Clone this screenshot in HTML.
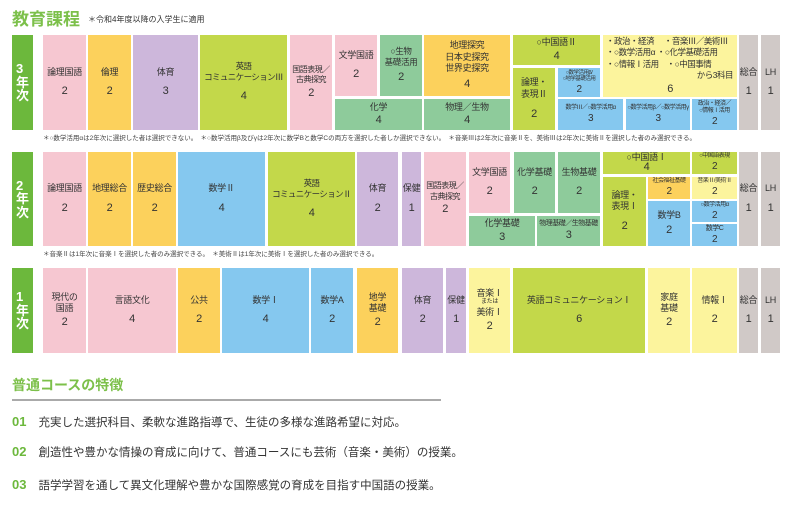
<!DOCTYPE html>
<html><head><meta charset="utf-8"><style>
body{margin:0;width:800px;height:512px;background:#fff;position:relative;overflow:hidden;font-family:"Liberation Sans","Noto Sans CJK JP",sans-serif;color:#333}
.c{position:absolute;display:flex;flex-direction:column;align-items:center;justify-content:center;text-align:center;font-size:9px;line-height:1.3;white-space:nowrap;letter-spacing:-0.3px;overflow:hidden}
.c b{font-weight:normal;font-size:11px;margin-top:6px}
.s{font-size:6px;line-height:1.15;letter-spacing:-0.5px}
.s b{font-size:10px;margin-top:1px}
.n{font-size:8.5px}
.pk{background:#f6c7d1}.or{background:#fcd15c}.pu{background:#cdb7db}.li{background:#c3d84a}.gr{background:#8ecb9b}.bl{background:#85c8ef}.ye{background:#fcf49d}.gy{background:#d0c9c7}
.yr{position:absolute;left:12px;width:21px;background:#6cb83c;color:#fff;font-weight:bold;font-size:13px;line-height:1.05;display:flex;flex-direction:column;align-items:center;justify-content:center}
.fn{position:absolute;font-size:6.5px;color:#444;white-space:nowrap}
.it{position:absolute;left:12px;font-size:11.5px;white-space:nowrap}
.it span{color:#6cb83c;font-weight:bold;font-size:13px;margin-right:12px}
</style></head><body>
<div style="position:absolute;left:12px;top:5px;font-size:17px;font-weight:bold;color:#7cc04a">教育課程</div>
<div style="position:absolute;left:88px;top:14px;font-size:8px">＊令和4年度以降の入学生に適用</div>

<!-- 3年 -->
<div class="yr" style="top:35px;height:95px">3<br>年<br>次</div>
<div class="c pk" style="left:43px;top:35px;width:43px;height:95px">論理国語<b>2</b></div>
<div class="c or" style="left:88px;top:35px;width:43px;height:95px">倫理<b>2</b></div>
<div class="c pu" style="left:133px;top:35px;width:65px;height:95px">体育<b>3</b></div>
<div class="c li" style="left:200px;top:35px;width:87px;height:95px;font-size:8.5px;letter-spacing:-0.6px">英語<br>コミュニケーションⅢ<b>4</b></div>
<div class="c pk" style="left:290px;top:35px;width:42px;height:95px;font-size:8px;letter-spacing:-0.5px">国語表現／<br>古典探究<b style="margin-top:0">2</b></div>
<div class="c pk" style="left:335px;top:35px;width:42px;height:61px">文学国語<b>2</b></div>
<div class="c gr" style="left:380px;top:35px;width:42px;height:61px;font-size:8.5px">○生物<br>基礎活用<b style="margin-top:2px">2</b></div>
<div class="c gr" style="left:335px;top:99px;width:87px;height:31px">化学<b style="margin-top:0">4</b></div>
<div class="c or" style="left:424px;top:35px;width:86px;height:61px">地理探究<br>日本史探究<br>世界史探究<b style="margin-top:2px">4</b></div>
<div class="c gr" style="left:424px;top:99px;width:86px;height:31px">物理／生物<b style="margin-top:0">4</b></div>
<div class="c li" style="left:513px;top:35px;width:87px;height:30px">○中国語Ⅱ<b style="margin-top:0">4</b></div>
<div class="c li" style="left:513px;top:68px;width:42px;height:62px">論理・<br>表現Ⅱ<b>2</b></div>
<div class="c bl s" style="left:558px;top:68px;width:42px;height:29px;font-size:5.5px">○数学活用β/<br>○地学基礎活用<b>2</b></div>
<div class="c bl s" style="left:558px;top:99px;width:65px;height:31px">数学Ⅲ／○数学活用α<b>3</b></div>
<div class="c bl s" style="left:626px;top:99px;width:64px;height:31px">○数学活用β／○数学活用γ<b>3</b></div>
<div class="c bl s" style="left:692px;top:99px;width:45px;height:31px">政治・経済／<br>○情報Ⅰ活用<b>2</b></div>
<div class="c ye" style="left:603px;top:35px;width:134px;height:62px;align-items:stretch;font-size:8.5px;line-height:1.35;letter-spacing:-0.5px">
<div style="text-align:left;padding-left:3px">・政治・経済　 ・音楽Ⅲ／美術Ⅲ<br>・○数学活用α ・○化学基礎活用<br>・○情報Ⅰ活用　・○中国事情</div>
<div style="text-align:right;padding-right:4px">から3科目</div><div style="font-size:11px">6</div></div>
<div class="c gy" style="left:739px;top:35px;width:19px;height:95px;font-size:9px">総合<b>1</b></div>
<div class="c gy" style="left:761px;top:35px;width:19px;height:95px">LH<b>1</b></div>
<div class="fn" style="left:43px;top:132px">＊○数学活用αは2年次に選択した者は選択できない。　＊○数学活用β及びγは2年次に数学Bと数学Cの両方を選択した者しか選択できない。　＊音楽Ⅲは2年次に音楽Ⅱを、美術Ⅲは2年次に美術Ⅱを選択した者のみ選択できる。</div>

<!-- 2年 -->
<div class="yr" style="top:152px;height:94px">2<br>年<br>次</div>
<div class="c pk" style="left:43px;top:152px;width:43px;height:94px">論理国語<b>2</b></div>
<div class="c or" style="left:88px;top:152px;width:43px;height:94px">地理総合<b>2</b></div>
<div class="c or" style="left:133px;top:152px;width:43px;height:94px">歴史総合<b>2</b></div>
<div class="c bl" style="left:178px;top:152px;width:87px;height:94px">数学Ⅱ<b>4</b></div>
<div class="c li" style="left:268px;top:152px;width:87px;height:94px;font-size:8.5px;letter-spacing:-0.6px">英語<br>コミュニケーションⅡ<b>4</b></div>
<div class="c pu" style="left:357px;top:152px;width:41px;height:94px">体育<b>2</b></div>
<div class="c pu" style="left:402px;top:152px;width:19px;height:94px">保健<b>1</b></div>
<div class="c pk" style="left:424px;top:152px;width:42px;height:94px;font-size:8px;letter-spacing:-0.5px">国語表現／<br>古典探究<b style="margin-top:0">2</b></div>
<div class="c pk" style="left:469px;top:152px;width:41px;height:61px">文学国語<b>2</b></div>
<div class="c gr" style="left:514px;top:152px;width:41px;height:61px">化学基礎<b>2</b></div>
<div class="c gr" style="left:558px;top:152px;width:42px;height:61px">生物基礎<b>2</b></div>
<div class="c gr" style="left:469px;top:216px;width:66px;height:30px">化学基礎<b style="margin-top:0">3</b></div>
<div class="c gr" style="left:537px;top:216px;width:63px;height:30px;font-size:7px;letter-spacing:-0.5px">物理基礎／生物基礎<b style="margin-top:0">3</b></div>
<div class="c li" style="left:603px;top:152px;width:87px;height:22px;line-height:1">○中国語Ⅰ<b style="margin-top:0">4</b></div>
<div class="c li" style="left:603px;top:177px;width:43px;height:69px">論理・<br>表現Ⅰ<b>2</b></div>
<div class="c or s" style="left:648px;top:177px;width:42px;height:22px">社会福祉基礎<b>2</b></div>
<div class="c bl" style="left:648px;top:201px;width:42px;height:45px">数学B<b style="margin-top:2px">2</b></div>
<div class="c li s" style="left:692px;top:152px;width:45px;height:22px">○中国語表現<b>2</b></div>
<div class="c ye s" style="left:692px;top:177px;width:45px;height:22px">音楽Ⅱ/美術Ⅱ<b>2</b></div>
<div class="c bl s" style="left:692px;top:201px;width:45px;height:21px">○数学活用α<b>2</b></div>
<div class="c bl s" style="left:692px;top:224px;width:45px;height:22px;font-size:7px">数学C<b>2</b></div>
<div class="c gy" style="left:739px;top:152px;width:19px;height:94px">総合<b>1</b></div>
<div class="c gy" style="left:761px;top:152px;width:19px;height:94px">LH<b>1</b></div>
<div class="fn" style="left:43px;top:248px">＊音楽Ⅱは1年次に音楽Ⅰを選択した者のみ選択できる。　＊美術Ⅱは1年次に美術Ⅰを選択した者のみ選択できる。</div>

<!-- 1年 -->
<div class="yr" style="top:268px;height:85px">1<br>年<br>次</div>
<div class="c pk" style="left:43px;top:268px;width:43px;height:85px">現代の<br>国語<b style="margin-top:0">2</b></div>
<div class="c pk" style="left:88px;top:268px;width:88px;height:85px">言語文化<b>4</b></div>
<div class="c or" style="left:178px;top:268px;width:42px;height:85px">公共<b>2</b></div>
<div class="c bl" style="left:222px;top:268px;width:87px;height:85px">数学Ⅰ<b>4</b></div>
<div class="c bl" style="left:311px;top:268px;width:42px;height:85px">数学A<b>2</b></div>
<div class="c or" style="left:357px;top:268px;width:41px;height:85px">地学<br>基礎<b style="margin-top:0">2</b></div>
<div class="c pu" style="left:402px;top:268px;width:41px;height:85px">体育<b>2</b></div>
<div class="c pu" style="left:446px;top:268px;width:20px;height:85px">保健<b>1</b></div>
<div class="c ye" style="left:469px;top:268px;width:41px;height:85px">音楽Ⅰ<br><span style="font-size:6px">または</span>美術Ⅰ<b style="margin-top:0">2</b></div>
<div class="c li" style="left:513px;top:268px;width:132px;height:85px">英語コミュニケーションⅠ<b>6</b></div>
<div class="c ye" style="left:648px;top:268px;width:42px;height:85px">家庭<br>基礎<b style="margin-top:0">2</b></div>
<div class="c ye" style="left:692px;top:268px;width:45px;height:85px">情報Ⅰ<b>2</b></div>
<div class="c gy" style="left:739px;top:268px;width:19px;height:85px">総合<b>1</b></div>
<div class="c gy" style="left:761px;top:268px;width:19px;height:85px">LH<b>1</b></div>

<div style="position:absolute;left:12px;top:375px;font-size:14px;font-weight:bold;color:#7cc04a">普通コースの特徴</div>
<div style="position:absolute;left:12px;top:399px;width:429px;height:2px;background:#aaa"></div>
<div class="it" style="top:414px"><span>01</span>充実した選択科目、柔軟な進路指導で、生徒の多様な進路希望に対応。</div>
<div class="it" style="top:444px"><span>02</span>創造性や豊かな情操の育成に向けて、普通コースにも芸術（音楽・美術）の授業。</div>
<div class="it" style="top:477px"><span>03</span>語学学習を通して異文化理解や豊かな国際感覚の育成を目指す中国語の授業。</div>
</body></html>
